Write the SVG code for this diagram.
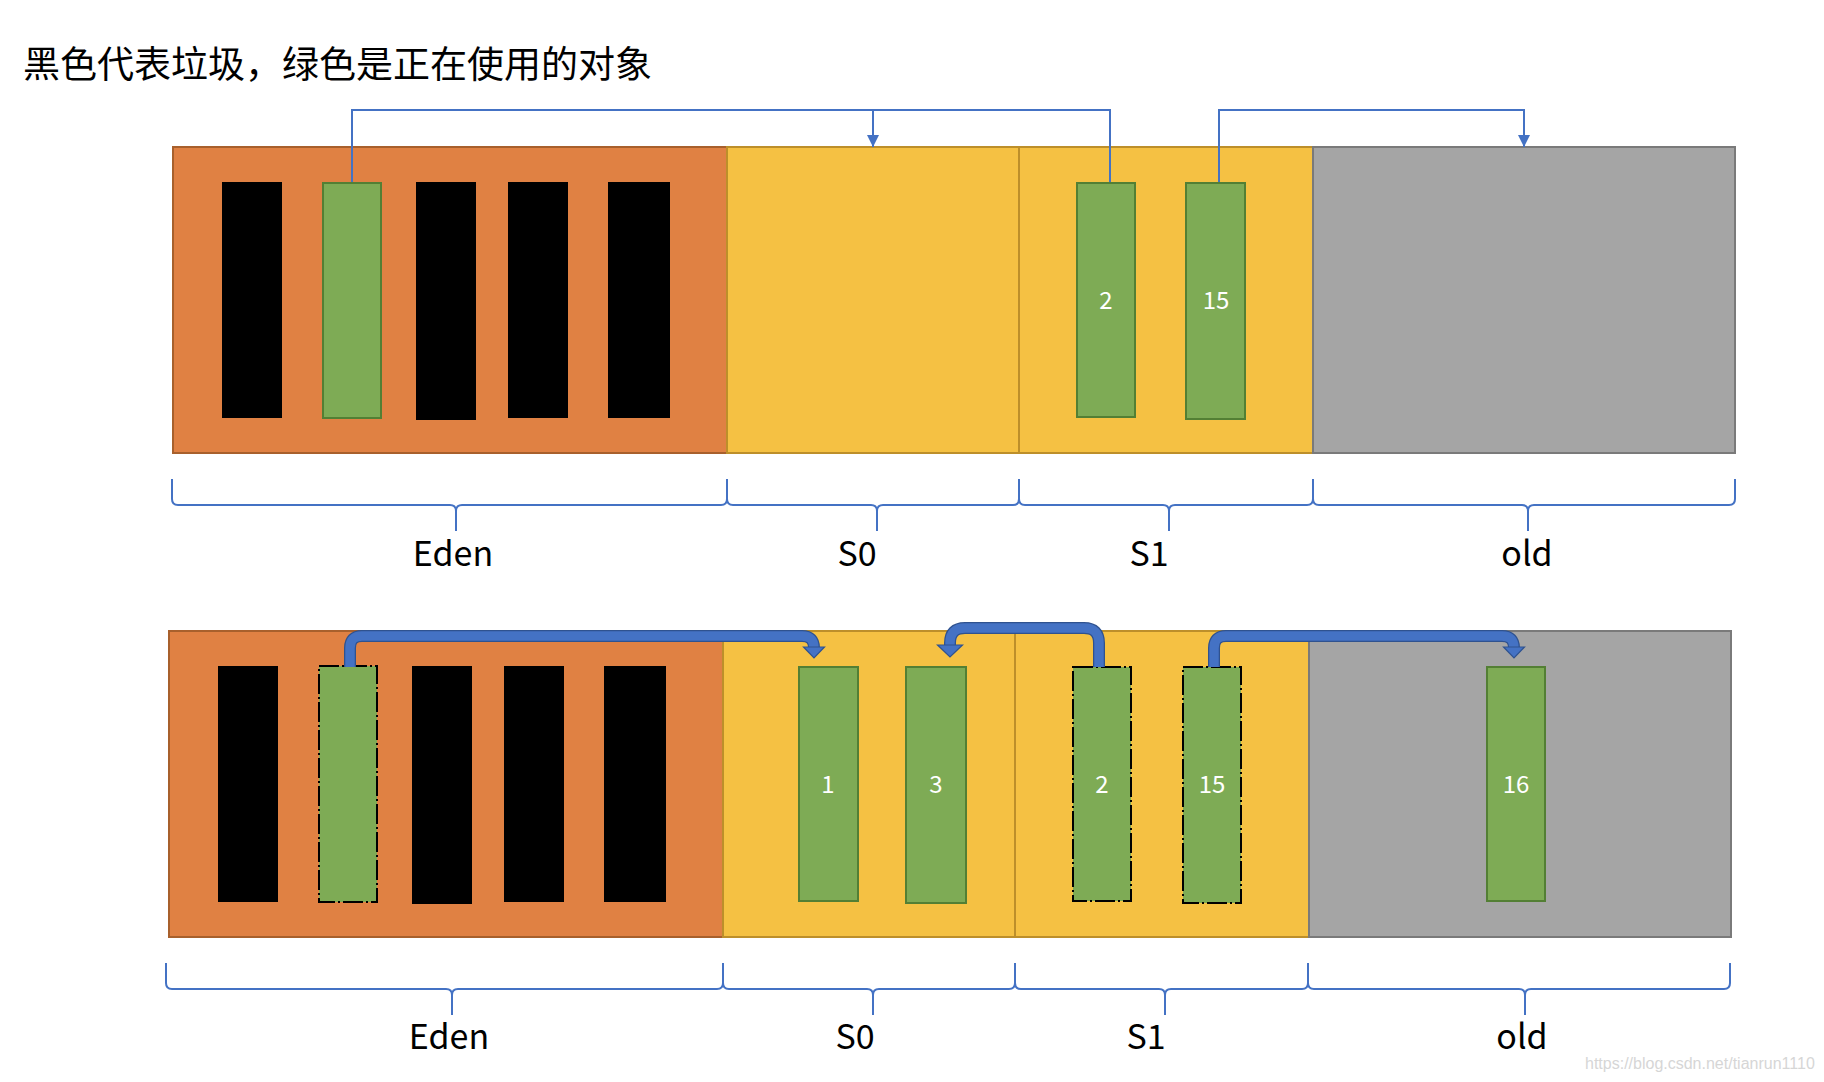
<svg xmlns="http://www.w3.org/2000/svg" width="1824" height="1082" viewBox="0 0 1824 1082">
<style>
.title{font-family:"Noto Sans CJK SC","Noto Sans",sans-serif;font-size:37px;fill:#000}
.lbl{font-family:"Noto Sans CJK SC","Noto Sans",sans-serif;font-size:34px;fill:#000;text-anchor:middle}
.num{font-family:"Noto Sans CJK SC","Noto Sans",sans-serif;font-size:24px;fill:#fff;text-anchor:middle}
.wm{font-family:"Liberation Sans",sans-serif;font-size:16px;fill:#d6d6d6}
.eden{fill:#E08143;stroke:#A8602C;stroke-width:2}
.surv{fill:#F5C143;stroke:#BD8F2A;stroke-width:2}
.old{fill:#A5A5A5;stroke:#7A7A7A;stroke-width:2}
.blk{fill:#000}
.grn{fill:#7EAB55;stroke:#537F34;stroke-width:2}
.grnd{fill:#7EAB55;stroke:#000;stroke-width:2;stroke-dasharray:20 3 2 3}
.thin{fill:none;stroke:#4472C4;stroke-width:2}
.brace{fill:none;stroke:#4472C4;stroke-width:2}
.thkO{fill:none;stroke:#2F528F;stroke-width:12}
.thkI{fill:none;stroke:#4472C4;stroke-width:9.5}
.head{fill:#4472C4;stroke:#2F528F;stroke-width:1.2}
</style>
<defs>
<marker id="arr" viewBox="0 0 12 12" refX="12" refY="6" markerWidth="12" markerHeight="12" markerUnits="userSpaceOnUse" orient="auto">
<path d="M0,0 L12,6 L0,12 z" fill="#4472C4"/>
</marker>
</defs>
<rect width="1824" height="1082" fill="#fff"/>
<text class="title" x="23" y="78">黑色代表垃圾，绿色是正在使用的对象</text>

<!-- top panel -->
<g id="eden-top"><rect class="eden" x="173" y="147" width="554" height="306"/></g>
<g id="s0-top"><rect class="surv" x="727" y="147" width="292" height="306"/></g>
<g id="s1-top"><rect class="surv" x="1019" y="147" width="294" height="306"/></g>
<g id="old-top"><rect class="old" x="1313" y="147" width="422" height="306"/></g>
<g id="top-b1"><rect class="blk" x="222" y="182" width="60" height="236"/></g>
<g id="top-g1"><rect class="grn" x="323" y="183" width="58" height="235"/></g>
<g id="top-b2"><rect class="blk" x="416" y="182" width="60" height="238"/></g>
<g id="top-b3"><rect class="blk" x="508" y="182" width="60" height="236"/></g>
<g id="top-b4"><rect class="blk" x="608" y="182" width="62" height="236"/></g>
<g id="top-g2"><rect class="grn" x="1077" y="183" width="58" height="234"/><text class="num" x="1106" y="309">2</text></g>
<g id="top-g15"><rect class="grn" x="1186" y="183" width="59" height="236"/><text class="num" x="1216" y="309">15</text></g>

<!-- bottom panel -->
<g id="eden-bot"><rect class="eden" x="169" y="631" width="554" height="306"/></g>
<g id="s0-bot"><rect class="surv" x="723" y="631" width="292" height="306"/></g>
<g id="s1-bot"><rect class="surv" x="1015" y="631" width="294" height="306"/></g>
<g id="old-bot"><rect class="old" x="1309" y="631" width="422" height="306"/></g>
<g id="bot-b1"><rect class="blk" x="218" y="666" width="60" height="236"/></g>
<g id="bot-g1"><rect class="grnd" x="319" y="666" width="58" height="236"/></g>
<g id="bot-b2"><rect class="blk" x="412" y="666" width="60" height="238"/></g>
<g id="bot-b3"><rect class="blk" x="504" y="666" width="60" height="236"/></g>
<g id="bot-b4"><rect class="blk" x="604" y="666" width="62" height="236"/></g>
<g id="bot-g-1"><rect class="grn" x="799" y="667" width="59" height="234"/><text class="num" x="828" y="793">1</text></g>
<g id="bot-g-3"><rect class="grn" x="906" y="667" width="60" height="236"/><text class="num" x="936" y="793">3</text></g>
<g id="bot-g-2"><rect class="grnd" x="1073" y="667" width="58" height="234"/><text class="num" x="1102" y="793">2</text></g>
<g id="bot-g-15"><rect class="grnd" x="1183" y="667" width="58" height="236"/><text class="num" x="1212" y="793">15</text></g>
<g id="bot-g-16"><rect class="grn" x="1487" y="667" width="58" height="234"/><text class="num" x="1516" y="793">16</text></g>

<!-- connectors -->
<g id="connectors">
<path class="thin" d="M352 182 V110 H873 V147" marker-end="url(#arr)"/>
<path class="thin" d="M1110 182 V110 H873"/>
<path class="thin" d="M1219 182 V110 H1524 V147" marker-end="url(#arr)"/>

<path class="thkO" d="M350 667 V648 Q350 636 362 636 H802 Q814 636 814 648"/>
<path class="thkI" d="M350 667 V648 Q350 636 362 636 H802 Q814 636 814 648"/>
<polygon class="head" points="803.5,647 824.5,647 814,658"/>

<path class="thkO" d="M1099 667 V643 Q1099 628 1084 628 H965 Q950 628 950 643 V646"/>
<path class="thkI" d="M1099 667 V643 Q1099 628 1084 628 H965 Q950 628 950 643 V646"/>
<polygon class="head" points="937.5,645 962.5,645 950,657"/>

<path class="thkO" d="M1214 667 V648 Q1214 636 1226 636 H1502 Q1514 636 1514 648"/>
<path class="thkI" d="M1214 667 V648 Q1214 636 1226 636 H1502 Q1514 636 1514 648"/>
<polygon class="head" points="1503.5,647 1524.5,647 1514,658"/>
</g>

<!-- braces and labels -->
<g id="brace-top-eden"><path class="brace" d="M172 479 V499 Q172 505 178 505 H450 Q456 505 456 511 V531 M456 511 Q456 505 462 505 H721 Q727 505 727 499 V479"/><text class="lbl" x="453" y="566">Eden</text></g>
<g id="brace-top-s0"><path class="brace" d="M727 479 V499 Q727 505 733 505 H871 Q877 505 877 511 V531 M877 511 Q877 505 883 505 H1013 Q1019 505 1019 499 V479"/><text class="lbl" x="857" y="566">S0</text></g>
<g id="brace-top-s1"><path class="brace" d="M1019 479 V499 Q1019 505 1025 505 H1163 Q1169 505 1169 511 V531 M1169 511 Q1169 505 1175 505 H1307 Q1313 505 1313 499 V479"/><text class="lbl" x="1149" y="566">S1</text></g>
<g id="brace-top-old"><path class="brace" d="M1313 479 V499 Q1313 505 1319 505 H1522 Q1528 505 1528 511 V531 M1528 511 Q1528 505 1534 505 H1729 Q1735 505 1735 499 V479"/><text class="lbl" x="1527" y="566">old</text></g>

<g id="brace-bot-eden"><path class="brace" d="M166 963 V983 Q166 989 172 989 H446 Q452 989 452 995 V1015 M452 995 Q452 989 458 989 H717 Q723 989 723 983 V963"/><text class="lbl" x="449" y="1049">Eden</text></g>
<g id="brace-bot-s0"><path class="brace" d="M723 963 V983 Q723 989 729 989 H867 Q873 989 873 995 V1015 M873 995 Q873 989 879 989 H1009 Q1015 989 1015 983 V963"/><text class="lbl" x="855" y="1049">S0</text></g>
<g id="brace-bot-s1"><path class="brace" d="M1015 963 V983 Q1015 989 1021 989 H1159 Q1165 989 1165 995 V1015 M1165 995 Q1165 989 1171 989 H1302 Q1308 989 1308 983 V963"/><text class="lbl" x="1146" y="1049">S1</text></g>
<g id="brace-bot-old"><path class="brace" d="M1308 963 V983 Q1308 989 1314 989 H1519 Q1525 989 1525 995 V1015 M1525 995 Q1525 989 1531 989 H1724 Q1730 989 1730 983 V963"/><text class="lbl" x="1522" y="1049">old</text></g>

<text class="wm" x="1585" y="1069">https://blog.csdn.net/tianrun1110</text>
</svg>
